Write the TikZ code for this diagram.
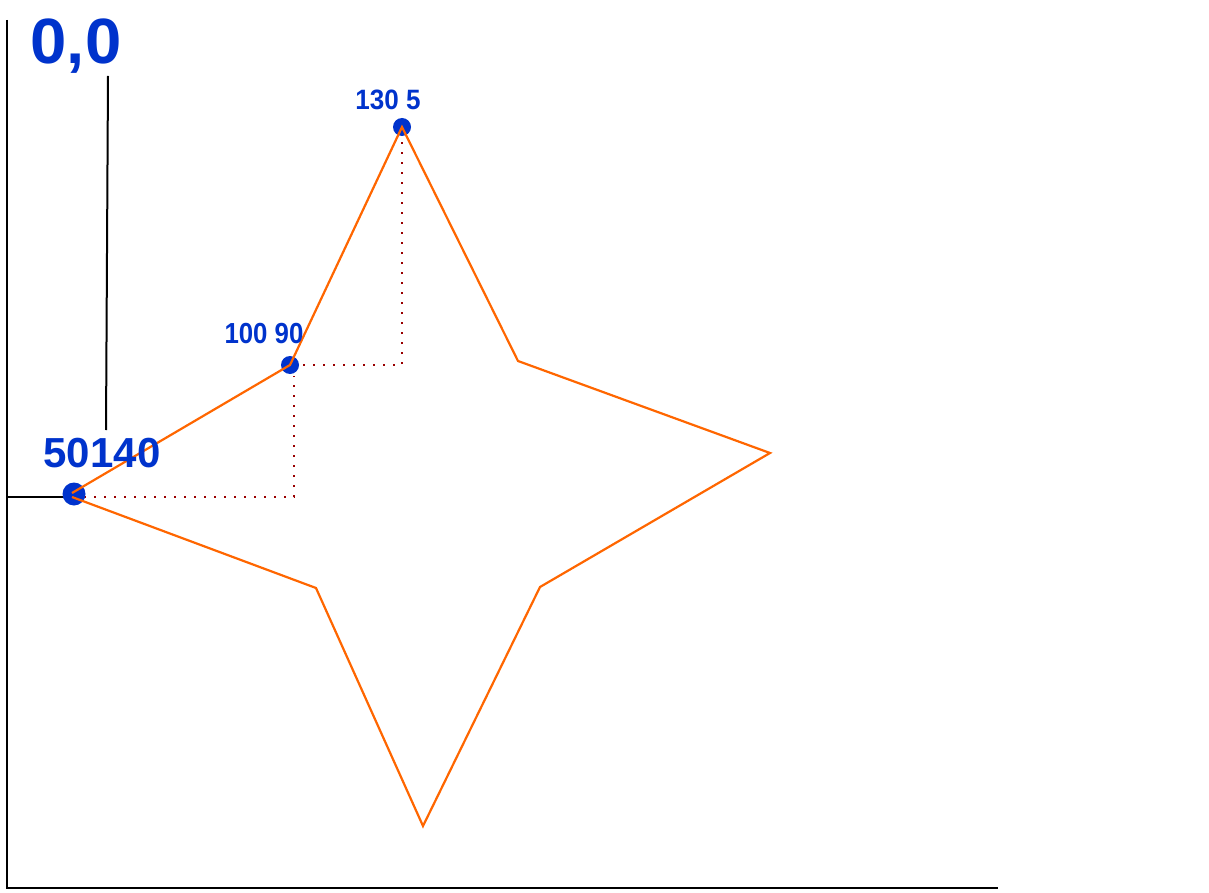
\documentclass[tikz,border=0pt]{standalone}
\usepackage{fontspec}
\setmainfont{Liberation Sans}
\definecolor{lblue}{HTML}{0033CC}
\definecolor{starorange}{HTML}{FF6600}
\definecolor{dotred}{HTML}{990000}
\begin{document}
\begin{tikzpicture}[x=1pt,y=-1pt,
  axis/.style={line width=2pt,black},
  starline/.style={line width=2.2pt,starorange,line join=miter},
  guide/.style={line width=2pt,dotred,dash pattern=on 2pt off 8pt},
  ptdot/.style={circle,fill=lblue,inner sep=0pt,minimum size=#1},
  lbl/.style={text=lblue,font=\bfseries,inner sep=0pt}]
\useasboundingbox (0,0) rectangle (1209,893);
% axes
\coordinate (ytop) at (7,20);
\coordinate (origin) at (7,888);
\coordinate (xend) at (998,888);
\draw[axis] (ytop) -- (origin) -- (xend);
\coordinate (hl) at (7,497);
\coordinate (hr) at (72,497);
\draw[axis] (hl) -- (hr);
\coordinate (vt) at (108,76);
\coordinate (vb) at (106,430);
\draw[axis] (vt) -- (vb);
% star points
\coordinate (p1) at (72,493);
\coordinate (p2) at (290,365);
\coordinate (p3) at (402,127);
\coordinate (p4) at (518,361);
\coordinate (p5) at (770,453);
\coordinate (p6) at (540,587);
\coordinate (p7) at (423,826);
\coordinate (p8) at (316,588);
\coordinate (p1b) at (72,497);
% guides
\coordinate (g1) at (84,497);
\coordinate (g2) at (294,497);
\coordinate (g3) at (294,376);
\coordinate (g4) at (303,365);
\coordinate (g5) at (402,365);
\coordinate (g6) at (402,140);
\draw[guide] (g1) -- (g2) -- (g3);
\draw[guide] (g4) -- (g5) -- (g6);
% dots
\node[ptdot=23pt] (d1) at (74,494) {};
\node[ptdot=18pt] (d2) at (290,365) {};
\node[ptdot=18pt] (d3) at (402,127) {};
% star
\draw[starline] (p1) -- (p2) -- (p3) -- (p4) -- (p5) -- (p6) -- (p7) -- (p8) -- (p1b);
% labels
\node[lbl,font=\bfseries\fontsize{64}{64}\selectfont,xscale=1.02] (t0) at (76,46) {0,0};
\node[lbl,font=\bfseries\fontsize{42}{42}\selectfont] (t1) at (102,453) {50140};
\node[lbl,font=\bfseries\fontsize{29}{29}\selectfont,xscale=0.89] (t2) at (264,334) {100 90};
\node[lbl,font=\bfseries\fontsize{28}{28}\selectfont,xscale=0.93] (t3) at (388,100) {130 5};
\end{tikzpicture}
\end{document}
